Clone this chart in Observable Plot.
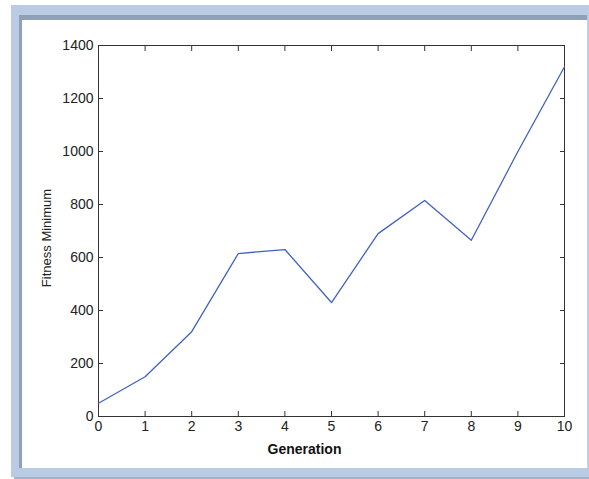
<!DOCTYPE html>
<html>
<head>
<meta charset="utf-8">
<script src="https://cdn.jsdelivr.net/npm/d3@7"></script>
<script src="https://cdn.jsdelivr.net/npm/@observablehq/plot@0.6"></script>
<style>
  html, body { margin: 0; padding: 0; background: #ffffff; }
  #wrap { position: relative; width: 589px; height: 479px; overflow: hidden; }
  .frame-outer { position: absolute; left: 11px; top: 5px; width: 578px; height: 472px; background: #b9cce4; }
  .frame-shadow { position: absolute; left: 14px; top: 477px; width: 575px; height: 2px; background: #a4b3c6; }
  .frame-top { position: absolute; left: 19px; top: 15px; width: 568px; height: 5px; background: #8fa1b6; }
  .frame-left { position: absolute; left: 19px; top: 15px; width: 3px; height: 453px; background: #8fa1b6; }
  .frame-inner { position: absolute; left: 22px; top: 20px; width: 565px; height: 448px; background: #ffffff; }
  .frame-rline { position: absolute; left: 587px; top: 20px; width: 1px; height: 448px; background: #c9d3df; }
  #chart { position: absolute; left: 0; top: 0; }
</style>
</head>
<body>
<div id="wrap">
  <div class="frame-outer"></div>
  <div class="frame-shadow"></div>
  <div class="frame-top"></div>
  <div class="frame-left"></div>
  <div class="frame-inner"></div>
  <div class="frame-rline"></div>
  <div id="chart"></div>
</div>
<script>
const generations = [0, 1, 2, 3, 4, 5, 6, 7, 8, 9, 10];
const fitnessMinimum = [50, 150, 320, 615, 630, 430, 690, 815, 665, 1000, 1320];
const xTicks = [0, 1, 2, 3, 4, 5, 6, 7, 8, 9, 10];
const yTicks = [0, 200, 400, 600, 800, 1000, 1200, 1400];

const data = generations.map((g, i) => ({gen: g, fit: fitnessMinimum[i]}));
const axisColor = "#333333";
const tickLen = 5;
const fmt = d3.format("d");

const chart = Plot.plot({
  width: 589,
  height: 479,
  marginLeft: 98,
  marginRight: 25,
  marginTop: 45,
  marginBottom: 63,
  style: {background: "transparent", fontFamily: "Liberation Sans, Arial, sans-serif", fontSize: "14px", color: "#222"},
  x: {domain: [0, 10], label: null},
  y: {domain: [0, 1400], label: null},
  marks: [
    Plot.frame({stroke: axisColor, strokeWidth: 1}),
    Plot.axisX(xTicks, {anchor: "bottom", tickSize: -tickLen, tickPadding: 10, tickFormat: fmt, stroke: axisColor, fill: "#222", fontSize: 14, label: null}),
    Plot.axisX(xTicks, {anchor: "top", tickSize: -tickLen, tickFormat: () => "", stroke: axisColor, label: null}),
    Plot.axisY(yTicks, {anchor: "left", tickSize: -tickLen, tickPadding: 10, tickFormat: fmt, stroke: axisColor, fill: "#222", fontSize: 14, label: null}),
    Plot.axisY(yTicks, {anchor: "right", tickSize: -tickLen, tickFormat: () => "", stroke: axisColor, label: null}),
    Plot.line(data, {x: "gen", y: "fit", stroke: "#4062c4", strokeWidth: 1.3}),
    Plot.text(["Generation"], {frameAnchor: "bottom", dy: 28, dx: -27, fontWeight: "bold", fontSize: 14, fill: "#111", lineAnchor: "top"}),
    Plot.text(["Fitness Minimum"], {frameAnchor: "left", textAnchor: "middle", dx: -52, dy: 7, rotate: -90, fontSize: 13, fill: "#222"})
  ]
});
document.getElementById("chart").appendChild(chart);
</script>
</body>
</html>
